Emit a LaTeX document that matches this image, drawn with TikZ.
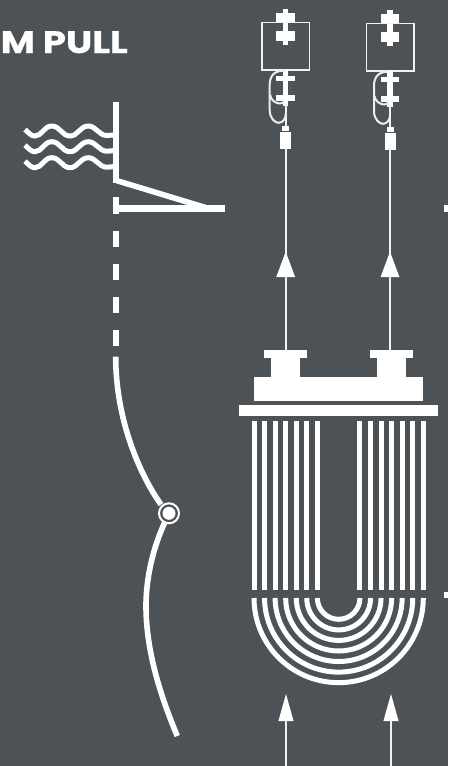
\documentclass[tikz,border=0pt]{standalone}
\usepackage{fontspec}
\setmainfont[BoldFeatures={FakeBold=0.6}]{Poppins}
\definecolor{bg}{HTML}{4D5256}
\tikzset{
  x=1pt,y=-1pt,
  thin line/.style={draw=white!92!bg,line width=1.4pt},
  mid line/.style={draw=white!92!bg,line width=2.4pt},
  thick line/.style={draw=white,line width=6.2pt},
  curve line/.style={draw=white,line width=5.6pt},
  wave line/.style={draw=white,line width=5pt},
  tube/.style={draw=white,line width=5pt},
  link/.style={draw=white!90!bg,line width=2pt},
}
\newcommand{\crane}[2]{%
\begin{scope}[shift={(#1,#2)}]
  \fill[white] (-2.6,9) rectangle (2.6,45);
  \fill[white] (-9.4,13.3) rectangle (9.4,22.7);
  \fill[white] (-9.4,31) rectangle (9.4,40.7);
  \draw[thin line] (-23.7,22.7) rectangle (24,70);
  \fill[white] (-2.6,70) rectangle (2.6,106);
  \fill[white] (-9.4,76) rectangle (9.4,81);
  \fill[white] (-9.4,95.3) rectangle (9.4,100.7);
  \draw[link] (-0.5,71) .. controls (-4,70.5) and (-16,70) .. (-16,85) -- (-16,110)
     .. controls (-16,118) and (-11,122.8) .. (-7,122.8) .. controls (-3,122.8) and (0,119) .. (0,114);
  \draw[link] (-15.5,95) .. controls (-15,100) and (-10,103.5) .. (-6,103.5) -- (-1,102.5);
  \draw[mid line] (0,104) -- (0,127);
  \fill[white] (-3.5,126) rectangle (3.5,131.3);
  \fill[white] (-5.5,132) rectangle (5.5,148.7);
\end{scope}}
\newcommand{\uparr}[4]{%
  \fill[white] (#1,#2) -- (#1+#3,#2+#4) -- (#1-#3,#2+#4) -- cycle;
}
\begin{document}
\begin{tikzpicture}
\useasboundingbox (0,0) rectangle (448,766);
\clip (0,0) rectangle (448,766);
\fill[bg] (0,0) rectangle (448,766);
% title
\node[anchor=base east,inner sep=0pt,text=white,xscale=1.2,font=\fontsize{31}{31}\selectfont\bfseries] (title) at (128,53) {OM PULL};
% left diagram
\coordinate (wallT) at (115.7,102.3);
\coordinate (wallB) at (115.7,183.3);
\draw[thick line] (wallT) -- (wallB);
\foreach \y in {131,146.7,162.7}{
  \draw[wave line] (25,\y-1.5) .. controls (29,\y+2) and (31,\y+5) .. (35,\y+5)
     .. controls (42,\y+5) and (44,\y-5) .. (51.7,\y-5)
     .. controls (60,\y-5) and (62,\y+5) .. (70,\y+5)
     .. controls (78,\y+5) and (80,\y-5) .. (88.3,\y-5)
     .. controls (96,\y-5) and (99,\y+4.5) .. (106.7,\y+4.5) -- (113,\y+4);
}
\draw[white,line width=5.6pt] (117,180.7) -- (207,208);
\draw[white,line width=6.8pt] (117,208.8) -- (225,208.8);
\foreach \a/\b in {197.3/213.7,230.7/246.7,263.7/280,296.7/313.3,330/346}{
  \draw[thick line] (115.7,\a) -- (115.7,\b);
}
\node[circle,fill=white,draw=none,minimum size=13pt,inner sep=0pt] (pivot) at (169,513.3) {};
\draw[white,line width=2pt] (pivot) circle (10pt);
\draw[curve line] (115.7,356.7) .. controls (115.7,420) and (140,475) .. (161,504.5);
\draw[curve line] (164.5,523) .. controls (150,555) and (146,585) .. (146,606) .. controls (146,650) and (160,695) .. (177.3,736);
% cranes
\crane{285.7}{0}
\crane{390}{1}
\draw[mid line] (285.7,148) -- (285.7,352);
\draw[mid line] (390,149) -- (390,352);
\uparr{285.7}{251.7}{9.5}{25.5}
\uparr{390}{251.7}{9.5}{25.5}
% header
\fill[white] (264.3,350.3) rectangle (306.7,357.7);
\fill[white] (271,357) rectangle (300,377);
\fill[white] (370.3,350.3) rectangle (412.7,357.7);
\fill[white] (377,357) rectangle (406,377);
\fill[white] (254.3,376.7) rectangle (422.7,401.3);
\fill[white] (239.3,405) rectangle (437.7,416);
% tubes
\foreach \r in {21.3,31.9,42.4,53,63.5,74.1,84.65}{
  \draw[tube] (338.65-\r,421) -- (338.65-\r,589.7);
  \draw[tube] (338.65+\r,421) -- (338.65+\r,589.7);
  \draw[tube] (338.65-\r,598) arc[start angle=180,end angle=0,radius=\r];
}
% bottom arrows
\draw[mid line] (286,720) -- (286,766);
\draw[mid line] (391,720) -- (391,766);
\uparr{286}{694}{7.6}{27}
\uparr{391}{694}{7.6}{27}
% edge ticks
\fill[white] (443.5,205) rectangle (448,212);
\fill[white] (443.5,591.5) rectangle (448,598);
\end{tikzpicture}
\end{document}
